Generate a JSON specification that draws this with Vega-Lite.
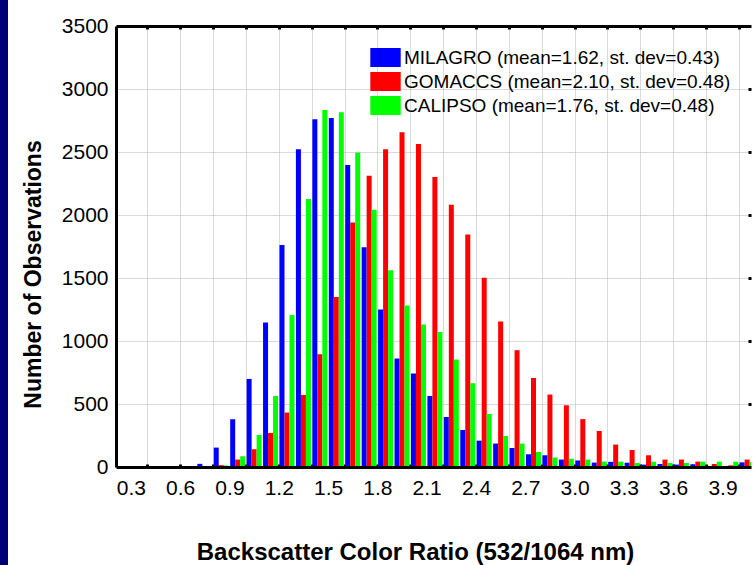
{
  "$schema": "https://vega.github.io/schema/vega-lite/v6.json",
  "width": 635,
  "height": 441,
  "autosize": {"type": "none"},
  "padding": {"left": 116, "top": 26, "right": 2, "bottom": 98},
  "background": "#000077",
  "config": {
    "view": {"fill": "white", "stroke": "white", "strokeWidth": 216},
    "font": "Liberation Sans",
    "axis": {"labelFont": "Liberation Sans", "titleFont": "Liberation Sans", "labelColor": "black", "titleColor": "black", "domainColor": "black", "tickColor": "black"},
    "legend": {"labelFont": "Liberation Sans", "labelColor": "black"}
  },
  "datasets": {
    "milagro": [
      {"ratio": 0.75, "count": 25}, {"ratio": 0.85, "count": 154}, {"ratio": 0.95, "count": 379}, {"ratio": 1.05, "count": 699},
      {"ratio": 1.15, "count": 1147}, {"ratio": 1.25, "count": 1761}, {"ratio": 1.35, "count": 2521}, {"ratio": 1.45, "count": 2759},
      {"ratio": 1.55, "count": 2770}, {"ratio": 1.65, "count": 2396}, {"ratio": 1.75, "count": 1745}, {"ratio": 1.85, "count": 1250},
      {"ratio": 1.95, "count": 861}, {"ratio": 2.05, "count": 742}, {"ratio": 2.15, "count": 564}, {"ratio": 2.25, "count": 397},
      {"ratio": 2.35, "count": 294}, {"ratio": 2.45, "count": 209}, {"ratio": 2.55, "count": 186}, {"ratio": 2.65, "count": 151},
      {"ratio": 2.75, "count": 101}, {"ratio": 2.85, "count": 93}, {"ratio": 2.95, "count": 59}, {"ratio": 3.05, "count": 52},
      {"ratio": 3.15, "count": 35}, {"ratio": 3.25, "count": 41}, {"ratio": 3.35, "count": 34}, {"ratio": 3.45, "count": 19},
      {"ratio": 3.55, "count": 24}, {"ratio": 3.65, "count": 19}, {"ratio": 3.75, "count": 22}, {"ratio": 3.85, "count": 0},
      {"ratio": 3.95, "count": 5}, {"ratio": 4.05, "count": 37}
    ],
    "gomaccs": [
      {"ratio": 0.85, "count": 15}, {"ratio": 0.95, "count": 59}, {"ratio": 1.05, "count": 141}, {"ratio": 1.15, "count": 270},
      {"ratio": 1.25, "count": 432}, {"ratio": 1.35, "count": 572}, {"ratio": 1.45, "count": 895}, {"ratio": 1.55, "count": 1350},
      {"ratio": 1.65, "count": 1941}, {"ratio": 1.75, "count": 2311}, {"ratio": 1.85, "count": 2521}, {"ratio": 1.95, "count": 2656},
      {"ratio": 2.05, "count": 2563}, {"ratio": 2.15, "count": 2301}, {"ratio": 2.25, "count": 2081}, {"ratio": 2.35, "count": 1846},
      {"ratio": 2.45, "count": 1501}, {"ratio": 2.55, "count": 1155}, {"ratio": 2.65, "count": 927}, {"ratio": 2.75, "count": 707},
      {"ratio": 2.85, "count": 575}, {"ratio": 2.95, "count": 490}, {"ratio": 3.05, "count": 380}, {"ratio": 3.15, "count": 286},
      {"ratio": 3.25, "count": 178}, {"ratio": 3.35, "count": 135}, {"ratio": 3.45, "count": 93}, {"ratio": 3.55, "count": 59},
      {"ratio": 3.65, "count": 59}, {"ratio": 3.75, "count": 43}, {"ratio": 3.85, "count": 24}, {"ratio": 3.95, "count": 13},
      {"ratio": 4.05, "count": 59}
    ],
    "calipso": [
      {"ratio": 0.85, "count": 12}, {"ratio": 0.95, "count": 85}, {"ratio": 1.05, "count": 254}, {"ratio": 1.15, "count": 564},
      {"ratio": 1.25, "count": 1207}, {"ratio": 1.35, "count": 2126}, {"ratio": 1.45, "count": 2833}, {"ratio": 1.55, "count": 2815},
      {"ratio": 1.65, "count": 2497}, {"ratio": 1.75, "count": 2041}, {"ratio": 1.85, "count": 1562}, {"ratio": 1.95, "count": 1282},
      {"ratio": 2.05, "count": 1131}, {"ratio": 2.15, "count": 1072}, {"ratio": 2.25, "count": 853}, {"ratio": 2.35, "count": 665},
      {"ratio": 2.45, "count": 421}, {"ratio": 2.55, "count": 246}, {"ratio": 2.65, "count": 186}, {"ratio": 2.75, "count": 119},
      {"ratio": 2.85, "count": 75}, {"ratio": 2.95, "count": 66}, {"ratio": 3.05, "count": 59}, {"ratio": 3.15, "count": 43},
      {"ratio": 3.25, "count": 42}, {"ratio": 3.35, "count": 32}, {"ratio": 3.45, "count": 42}, {"ratio": 3.55, "count": 32},
      {"ratio": 3.65, "count": 32}, {"ratio": 3.75, "count": 42}, {"ratio": 3.85, "count": 42}, {"ratio": 3.95, "count": 42},
      {"ratio": 4.05, "count": 40}
    ]
  },
  "layer": [
    {
      "data": {"name": "milagro"},
      "mark": {"type": "bar", "size": 5, "xOffset": -5, "clip": true},
      "encoding": {
        "x": {"field": "ratio", "type": "quantitative", "scale": {"domain": [0.24, 4.043], "nice": false, "zero": false},
          "axis": {"orient": "bottom", "values": [0.4, 0.6, 0.8, 1.0, 1.2, 1.4, 1.6, 1.8, 2.0, 2.2, 2.4, 2.6, 2.8, 3.0, 3.2, 3.4, 3.6, 3.8, 4.0],
            "labels": false, "grid": true, "gridColor": "#b4b4b4", "gridDash": [1, 1], "gridWidth": 1, "domain": false,
            "ticks": true, "tickSize": -3, "tickWidth": 3, "title": null}},
        "y": {"field": "count", "type": "quantitative", "scale": {"domain": [0, 3500], "nice": false},
          "axis": {"orient": "left", "values": [0, 500, 1000, 1500, 2000, 2500, 3000, 3500], "format": "d", "grid": true, "gridColor": "#b4b4b4", "gridDash": [1, 1],
            "ticks": false, "domainWidth": 3, "labelFontSize": 21, "labelPadding": 8,
            "title": "Number of Observations", "titleFontSize": 23, "titleFontWeight": "bold", "titleX": -83, "titleY": 248, "titleBaseline": "middle", "titleAlign": "center"}},
        "color": {"datum": "MILAGRO", "type": "nominal",
          "scale": {"domain": ["MILAGRO", "GOMACCS", "CALIPSO"], "range": ["#0000ff", "#ff0000", "#00ff00"]},
          "legend": {"orient": "none", "legendX": 260, "legendY": 22, "title": null, "padding": 0,
            "labelFontSize": 19, "labelOffset": 9, "labelLimit": 0, "symbolType": "M-1.6,-1H1.6V1H-1.6Z", "symbolSize": 361, "symbolStrokeWidth": 0, "symbolOpacity": 1, "rowPadding": 4,
            "labelExpr": "datum.label == 'MILAGRO' ? 'MILAGRO (mean=1.62, st. dev=0.43)' : datum.label == 'GOMACCS' ? 'GOMACCS (mean=2.10, st. dev=0.48)' : 'CALIPSO (mean=1.76, st. dev=0.48)'"}}
      }
    },
    {
      "data": {"name": "gomaccs"},
      "mark": {"type": "bar", "size": 5, "xOffset": 0, "clip": true},
      "encoding": {
        "x": {"field": "ratio", "type": "quantitative",
          "axis": {"orient": "bottom", "values": [0.3, 0.6, 0.9, 1.2, 1.5, 1.8, 2.1, 2.4, 2.7, 3.0, 3.3, 3.6, 3.9], "format": ".1f",
            "grid": false, "ticks": false, "domain": true, "domainWidth": 3, "zindex": 1, "labelFontSize": 21, "labelPadding": 10,
            "title": "Backscatter Color Ratio (532/1064 nm)", "titleFontSize": 24, "titleFontWeight": "bold", "titleX": 299, "titleY": 85, "titleBaseline": "middle", "titleAlign": "center"}},
        "y": {"field": "count", "type": "quantitative",
          "axis": {"orient": "right", "values": [500, 1000, 1500, 2000, 2500, 3000], "labels": false, "grid": false, "domain": false,
            "ticks": true, "tickSize": -3, "tickWidth": 3, "title": null}},
        "color": {"datum": "GOMACCS", "type": "nominal"}
      }
    },
    {
      "data": {"name": "calipso"},
      "mark": {"type": "bar", "size": 5, "xOffset": 5, "clip": true},
      "encoding": {
        "x": {"field": "ratio", "type": "quantitative",
          "axis": {"orient": "top", "values": [0.4, 0.6, 0.8, 1.0, 1.2, 1.4, 1.6, 1.8, 2.0, 2.2, 2.4, 2.6, 2.8, 3.0, 3.2, 3.4, 3.6, 3.8, 4.0],
            "labels": false, "grid": false, "domain": true, "domainWidth": 3, "ticks": true, "tickSize": -3, "tickWidth": 3, "title": null}},
        "y": {"field": "count", "type": "quantitative", "axis": null},
        "color": {"datum": "CALIPSO", "type": "nominal"}
      }
    }
  ],
  "resolve": {"axis": {"x": "independent", "y": "independent"}}
}
